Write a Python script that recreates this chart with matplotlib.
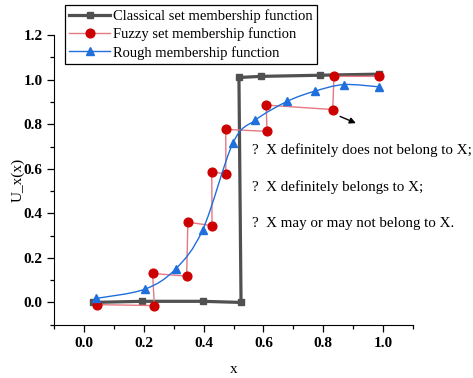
import numpy as np
import matplotlib
matplotlib.use('Agg')
import matplotlib.pyplot as plt
from matplotlib.path import Path
from matplotlib.patches import PathPatch

plt.rcParams['font.family'] = ['Liberation Serif', 'DejaVu Serif']

# classical set membership (step)
classical_x = [0.03, 0.195, 0.397, 0.525, 0.518, 0.593, 0.788, 0.987]
classical_y = [0.0, 0.005, 0.005, 0.0, 1.01, 1.015, 1.02, 1.025]

# fuzzy set membership (staircase pairs)
fuzzy_x = [0.044, 0.235, 0.229, 0.343, 0.347, 0.428, 0.427, 0.474, 0.474,
           0.612, 0.609, 0.832, 0.836, 0.987]
fuzzy_y = [-0.01, -0.014, 0.13, 0.118, 0.36, 0.345, 0.586, 0.577, 0.777,
           0.768, 0.886, 0.866, 1.015, 1.015]

# rough membership
rough_x = [0.04, 0.202, 0.306, 0.397, 0.498, 0.572, 0.68, 0.771, 0.869, 0.987]
rough_y = [0.018, 0.059, 0.15, 0.327, 0.716, 0.818, 0.903, 0.948, 0.978, 0.968]

notes = ['?  X definitely does not belong to X;',
         '?  X definitely belongs to X;',
         '?  X may or may not belong to X.']
notes_y = [0.686, 0.518, 0.355]

c_gray = '#505050'
c_red = '#cc0000'
c_red_line = '#e57882'
c_blue = '#1f6fdc'

fig = plt.figure(figsize=(4.73, 3.78), dpi=100)
ax = fig.add_axes([0.1148, 0.141, 0.758, 0.766])

ax.plot(classical_x, classical_y, color=c_gray, lw=2.3, marker='s', ms=5,
        label='Classical set membership function', zorder=3)
ax.plot(fuzzy_x, fuzzy_y, color=c_red_line, lw=1.0, marker='o', ms=6.3,
        mfc=c_red, mec=c_red, label='Fuzzy set membership function', zorder=4)

# smooth spline line through the rough points (Catmull-Rom as cubic Bezier)
pts = np.column_stack([rough_x, rough_y])
ext = np.vstack([pts[0], pts, pts[-1]])
verts = [tuple(pts[0])]
codes = [Path.MOVETO]
for i in range(1, len(ext) - 2):
    p0, p1, p2, p3 = ext[i - 1], ext[i], ext[i + 1], ext[i + 2]
    verts += [tuple(p1 + (p2 - p0) / 6), tuple(p2 - (p3 - p1) / 6), tuple(p2)]
    codes += [Path.CURVE4] * 3
ax.add_patch(PathPatch(Path(verts, codes), fc='none', ec=c_blue, lw=1.0, zorder=5))
ax.plot(rough_x, rough_y, ls='none', marker='^', ms=6.3, color=c_blue, zorder=6)
ax.plot([], [], color=c_blue, lw=1.0, marker='^', ms=6.3,
        label='Rough membership function')

ax.annotate('', xy=(0.918, 0.80), xytext=(0.848, 0.84),
            arrowprops=dict(arrowstyle='-|>', color='k', lw=1.0, mutation_scale=9))

for t, y in zip(notes, notes_y):
    ax.text(0.562, y, t, fontsize=10.8, va='center', ha='left')

ax.set_xlim(-0.1, 1.1)
ax.set_ylim(-0.1, 1.2)
ax.set_xticks([0.0, 0.2, 0.4, 0.6, 0.8, 1.0])
ax.set_yticks([0.0, 0.2, 0.4, 0.6, 0.8, 1.0, 1.2])
ax.set_xticks(np.arange(-0.1, 1.11, 0.1), minor=True)
ax.set_yticks(np.arange(-0.1, 1.21, 0.1), minor=True)
ax.tick_params(which='major', direction='out', length=5, width=0.9, labelsize=11)
ax.tick_params(which='minor', direction='out', length=3, width=0.9)
for lab in ax.get_xticklabels() + ax.get_yticklabels():
    lab.set_fontweight('bold')
ax.spines['top'].set_visible(False)
ax.spines['right'].set_visible(False)
ax.set_xlabel('x', fontsize=11, labelpad=10)
ax.set_ylabel('U_x(x)', fontsize=11, labelpad=-1)

leg = ax.legend(loc='upper left', bbox_to_anchor=(0.03, 1.104), borderaxespad=0,
                fontsize=10.5, fancybox=False, edgecolor='black', framealpha=1,
                handlelength=2.8, handletextpad=0.2, labelspacing=0.3,
                borderpad=0.3)
leg.get_frame().set_linewidth(0.9)

fig.savefig('out.png', dpi=100)
